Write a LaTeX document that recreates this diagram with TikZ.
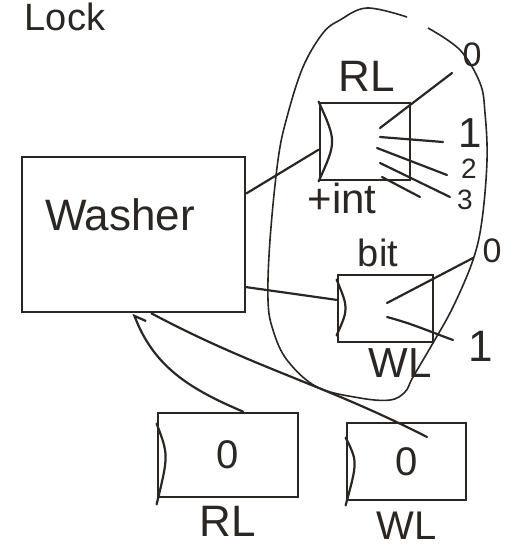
\documentclass[tikz,border=0pt]{standalone}
\usepackage{xcolor}
\usepackage{fontspec}
\setmainfont{Liberation Sans}
\usepackage{tikz}
\usetikzlibrary{arrows.meta}
\usetikzlibrary{positioning}
\definecolor{ink}{HTML}{2B2622}
\tikzset{>=stealth}
\tikzset{
  box/.style={draw=ink, line width=2.8pt, rectangle, inner sep=0pt},
  wire/.style={draw=ink, line width=2.2pt, line cap=round},
  hand/.style={text=ink, inner sep=0pt, font=\fontsize{#1}{#1}\selectfont},
}
\begin{document}
\begin{tikzpicture}[x=1pt,y=-1pt]
        \useasboundingbox (0,0) rectangle (514,551);
        % Title
        \node[hand=38] (lock) at (65,17) {Lock};

        % Washer
        \node[box, minimum width=223pt, minimum height=155pt] (washer) at (133.5,234.5) {};
        \node[hand=44] (washertxt) at (120,215) {Washer};

        % Latches inside the loop
        \node[box, minimum width=90pt, minimum height=77pt] (rl) at (365,141.5) {};
        \draw[wire] (rl.north west) .. controls ([xshift=18pt]rl.west) .. (rl.south west);
        \node[hand=44] (rltxt) at (367,76) {RL};
        \node[hand=42] (inttxt) at (342,198) {+int};
        \node[hand=34] (rlzero) at (472,55) {0};
        \node[hand=42] (rlone) at (470,133) {1};
        \node[hand=28] (rltwo) at (469,169) {2};
        \node[hand=28] (rlthree) at (465,200) {3};

        \node[box, minimum width=95pt, minimum height=67pt] (bit) at (385.5,308.5) {};
        \draw[wire] ([yshift=-6pt]bit.north west) .. controls ([xshift=12pt]bit.west) .. ([yshift=8pt]bit.south west);
        \node[hand=38] (bittxt) at (378,253) {bit};
        \node[hand=42] (wltxt) at (400,363) {WL};
        \node[hand=34] (bitzero) at (492,251) {0};
        \node[hand=44] (bitone) at (481,346) {1};

        % Outputs of RL
        \coordinate (rla) at (380,128);
        \coordinate (rlb) at (380,137);
        \coordinate (rlc) at (377,148);
        \coordinate (rld) at (380,163);
        \coordinate (rle) at (382,177);
        \coordinate (rla') at (452,73);
        \coordinate (rlb') at (443,142);
        \coordinate (rlc') at (447,175);
        \coordinate (rld') at (450,197);
        \coordinate (rle') at (420,197);
        \draw[wire] (rla) -- (rla');
        \draw[wire] (rlb) -- (rlb');
        \draw[wire] (rlc) -- (rlc');
        \draw[wire] (rld) -- (rld');
        \draw[wire] (rle) -- (rle');

        % Outputs of bit
        \coordinate (bita) at (387,303);
        \coordinate (bitb) at (387,317);
        \coordinate (bita') at (473,258);
        \coordinate (bitb') at (453,340);
        \draw[wire] (bita) -- (bita');
        \draw[wire] (bitb) to[out=-15, in=160] (bitb');

        % Washer to latches
        \draw[wire] (washer.20) -- (rl.190);
        \draw[wire] (washer.-25) -- (bit.170);

        % The loop round both latches
        \draw[ink, line width=1.6pt] plot[smooth, tension=0.6] coordinates {(407,17) (367,8) (340,20) (323,33) (303,67) (287,117) (278,160) (270,240) (268,300) (273,330) (287,360) (317,387) (360,398) (390,400) (405,392) (413,377) (433,343) (453,307) (473,260) (482,220) (487,160) (485,113) (480,83) (460,50) (428,28)};

        % Lower latches
        \node[box, hand=40, minimum width=140pt, minimum height=84pt] (rlbox) at (228,455) {0};
        \draw[wire] ([yshift=-12pt]rlbox.north west) .. controls ([xshift=12pt]rlbox.west) .. ([yshift=-6pt]rlbox.south west);
        \node[hand=44] (rlbot) at (228,521) {RL};
        \node[box, hand=40, minimum width=119pt, minimum height=77pt] (wlbox) at (406.5,461.5) {0};
        \draw[wire] ([yshift=-16pt]wlbox.north west) .. controls ([xshift=12pt]wlbox.west) .. ([yshift=-4pt]wlbox.south west);
        \node[hand=40, below=10pt of wlbox] (wlbot) {WL};

        \coordinate (wlend) at (427,437);
        \draw[wire, -{Straight Barb[harpoon,swap,length=9pt]}] ([xshift=15pt]rlbox.north) to[out=157, in=-69] (washer.south);
        \draw[wire] ([xshift=18pt]washer.south) to[out=-28, in=153] (wlend);
\end{tikzpicture}
\end{document}
